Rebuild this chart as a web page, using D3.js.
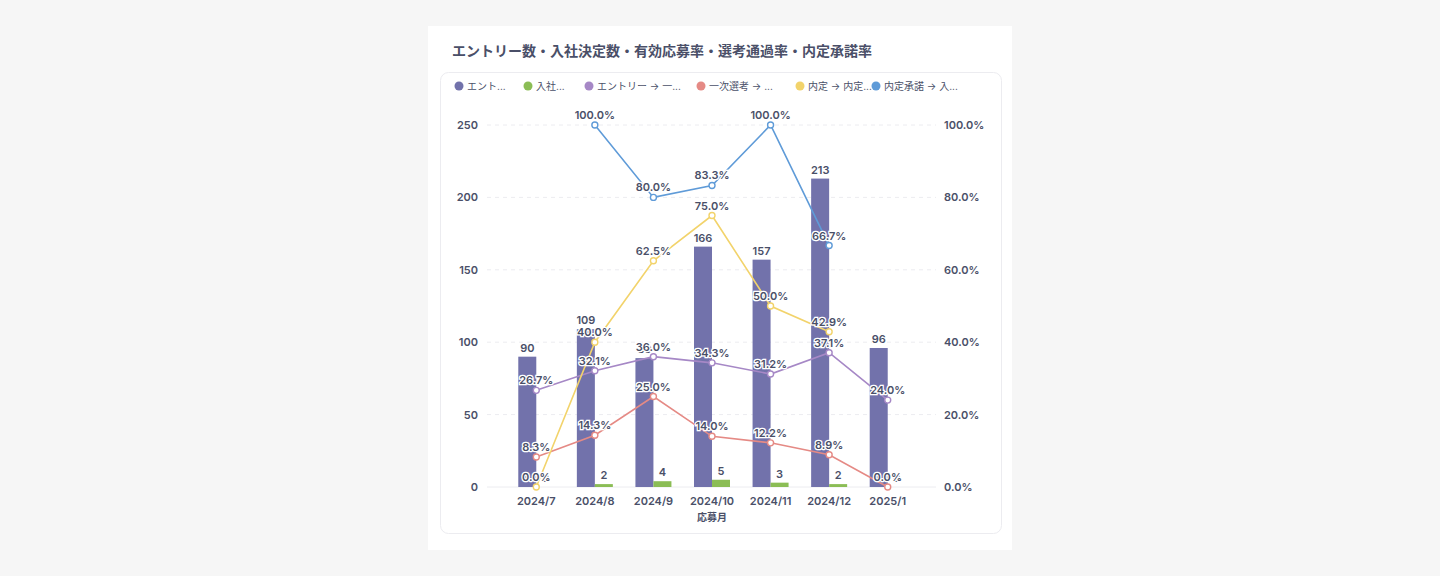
<!DOCTYPE html>
<html><head><meta charset="utf-8">
<script src="https://cdn.jsdelivr.net/npm/d3@7"></script>
<style>
body{margin:0;background:#f6f6f6;font-family:Inter,"Noto Sans CJK JP",sans-serif;}
</style></head><body>
<script>
// data
const months = ['2024/7','2024/8','2024/9','2024/10','2024/11','2024/12','2025/1']
const entries = [90,109,89,166,157,213,96]
const hires = [0,2,4,5,3,2,0]
const entryRate = [26.7,32.1,36.0,34.3,31.2,37.1,24.0]
const firstRate = [8.3,14.3,25.0,14.0,12.2,8.9,0.0]
const offerRate = [0.0,40.0,62.5,75.0,50.0,42.9,null]
const acceptRate = [null,100.0,80.0,83.3,100.0,66.7,null]
const leftTicks = [0,50,100,150,200,250]
const rightTicks = [0,20,40,60,80,100]

const W = 1440, H = 576
const svg = d3.select('body').append('svg').attr('width', W).attr('height', H)
  .style('font-family', 'Inter,"Noto Sans CJK JP",sans-serif')
svg.append('rect').attr('x',428).attr('y',26).attr('width',584).attr('height',524).attr('fill','#fff')
svg.append('rect').attr('x',440.5).attr('y',72.5).attr('width',561).attr('height',461).attr('rx',8)
   .attr('fill','#fff').attr('stroke','#ececf0')
svg.append('text').attr('x',452).attr('y',56).text('エントリー数・入社決定数・有効応募率・選考通過率・内定承諾率')
   .attr('font-size',14).attr('font-weight',700).attr('fill','#4a4f68')

// legend
const legend = [['エント...','#7272ab'],['入社...','#8bbd55'],['エントリー → 一...','#a688c6'],
  ['一次選考 → ...','#e58a85'],['内定 → 内定...','#f2d36b'],['内定承諾 → 入...','#5f9bd8']]
const legX = [459,528,589,701,800,876]
legend.forEach((d,i)=>{
  svg.append('circle').attr('cx',legX[i]).attr('cy',86).attr('r',4.5).attr('fill',d[1])
  svg.append('text').attr('x',legX[i]+8).attr('y',90).text(d[0]).attr('font-size',10).attr('fill','#4a4f68')
})

const x = d3.scaleBand().domain(months).range([507,917])
const y = d3.scaleLinear().domain([0,250]).range([487,125])
const y2 = d3.scaleLinear().domain([0,100]).range([487,125])
const cx = m => x(m) + x.bandwidth()/2
const txt = '#4a4f68'

// grid
svg.append('g').selectAll('line').data(leftTicks).join('line')
  .attr('x1',487).attr('x2',936).attr('y1',d=>y(d)).attr('y2',d=>y(d))
  .attr('stroke','#ececf0').attr('stroke-dasharray',d=>d===0?null:'4,4')
// axes
const gl = svg.append('g').attr('transform','translate(484,0)')
  .call(d3.axisLeft(y).tickValues(leftTicks).tickSize(0).tickPadding(6))
const gr = svg.append('g').attr('transform','translate(938,0)')
  .call(d3.axisRight(y2).tickValues(rightTicks).tickSize(0).tickPadding(6).tickFormat(d=>d.toFixed(1)+'%'))
const gx = svg.append('g').attr('transform','translate(0,489)')
  .call(d3.axisBottom(x).tickSize(0).tickPadding(8))
;[gl,gr,gx].forEach(g=>{g.select('.domain').remove()
  g.selectAll('text').attr('font-size',11).attr('font-weight',600).attr('fill',txt).style('font-family','Inter,sans-serif')})
svg.append('text').attr('x',712).attr('y',521).attr('text-anchor','middle').text('応募月')
  .attr('font-size',10).attr('font-weight',600).attr('fill',txt)

// bars
const bw = 18
svg.append('g').selectAll('rect').data(entries).join('rect')
  .attr('x',(d,i)=>cx(months[i])-bw).attr('y',d=>y(d)).attr('width',bw).attr('height',d=>487-y(d)).attr('fill','#7272ab')
svg.append('g').selectAll('rect').data(hires).join('rect')
  .attr('x',(d,i)=>cx(months[i])).attr('y',d=>y(d)).attr('width',bw).attr('height',d=>487-y(d)).attr('fill','#8bbd55')

// lines
const lab = (sel)=>sel.attr('font-size',11).attr('font-weight',600).attr('fill',txt)
  .attr('stroke','#fff').attr('stroke-width',2.5).attr('paint-order','stroke').attr('text-anchor','middle')
function line(vals,color){
  const pts = vals.map((v,i)=>({m:months[i],v})).filter(d=>d.v!==null)
  svg.append('path').datum(pts).attr('fill','none').attr('stroke',color).attr('stroke-width',1.6)
    .attr('d',d3.line().x(d=>cx(d.m)).y(d=>y2(d.v)))
  svg.append('g').selectAll('circle').data(pts).join('circle')
    .attr('cx',d=>cx(d.m)).attr('cy',d=>y2(d.v)).attr('r',3).attr('fill','#fff').attr('stroke',color).attr('stroke-width',1.4)
  return pts
}
const lineSets = [[entryRate,'#a688c6'],[firstRate,'#e58a85'],[offerRate,'#f2d36b'],[acceptRate,'#5f9bd8']]
const allPts = lineSets.map(s=>line(s[0],s[1]))
// bar labels
svg.append('g').selectAll('text').data(entries).join('text')
  .attr('x',(d,i)=>cx(months[i])-bw/2).attr('y',d=>y(d)-5).text(d=>d).call(lab)
svg.append('g').selectAll('text').data(hires).join('text')
  .attr('x',(d,i)=>cx(months[i])+bw/2).attr('y',d=>y(d)-5).text(d=>d).call(lab)
allPts.forEach(pts=>{
  svg.append('g').selectAll('text').data(pts).join('text')
    .attr('x',d=>cx(d.m)).attr('y',d=>y2(d.v)-6).text(d=>d.v.toFixed(1)+'%').call(lab)
})
</script>
</body></html>
